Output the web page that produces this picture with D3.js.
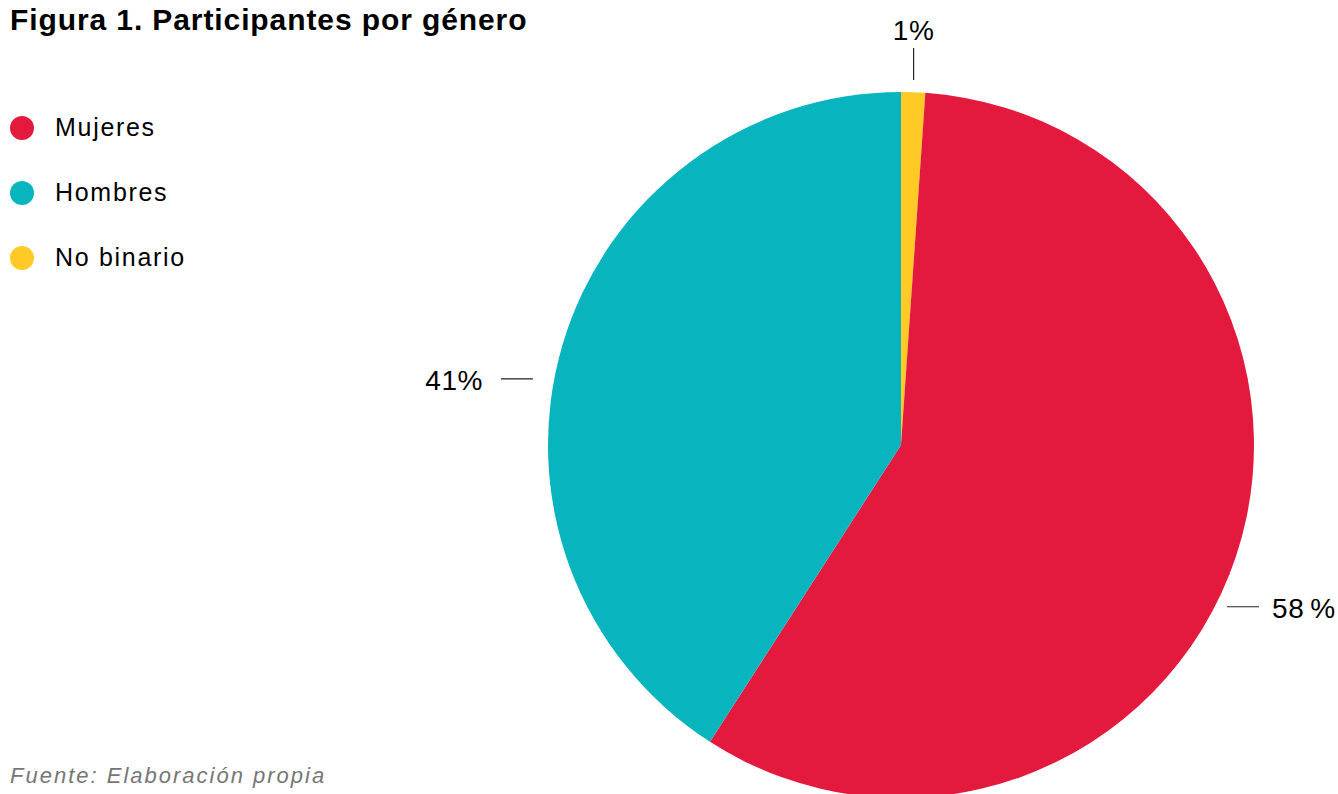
<!DOCTYPE html>
<head>
<meta charset="utf-8">
<script src="https://d3js.org/d3.v7.min.js"></script>
<style>
body {
	margin: 0;
	background: #fff;
	font-family: "Liberation Sans", Arial, sans-serif;
}
.title {
	font-weight: bold;
	font-size: 30px;
	letter-spacing: 0.9px;
}
.legend text {
	font-size: 25px;
	letter-spacing: 1.7px;
}
.pct {
	font-size: 28px;
	letter-spacing: 0.5px;
}
.source {
	font-size: 22px;
	font-style: italic;
	letter-spacing: 2px;
	fill: #767676;
}
</style>
</head>
<body>
<svg id="chart" width="1338" height="794"></svg>

<script>

// slices in drawing order, clockwise from 12 o'clock
var categories = ["No binario", "Mujeres", "Hombres"];
var values = [1.1, 58, 40.9];
var pctLabels = ["1%", "58\u2009%", "41%"];
var legendOrder = ["Mujeres", "Hombres", "No binario"];

var color = d3.scaleOrdinal()
	.domain(categories)
	.range(["#ffc926", "#e3193e", "#08b4bd"]);

var svg = d3.select("#chart"),
	cx = 901,
	cy = 445,
	radius = 353;

svg.append("text")
	.attr("class", "title")
	.attr("x", 10)
	.attr("y", 30)
	.text("Figura 1. Participantes por género");

var data = categories.map((c, i) => ({name: c, value: values[i], label: pctLabels[i]}));

var pie = d3.pie()
	.sort(null)
	.value(d => d.value);

var arc = d3.arc()
	.innerRadius(0)
	.outerRadius(radius);

var g = svg.append("g")
	.attr("transform", "translate(" + cx + "," + cy + ")");

var arcs = pie(data);

g.selectAll("path")
	.data(arcs)
	.enter().append("path")
	.attr("d", arc)
	.attr("fill", d => color(d.data.name));

// leader lines: top one vertical, side ones horizontal
var tweak = {"No binario": 0, "Mujeres": 0.14, "Hombres": -0.108};

arcs.forEach(function(d) {
	var a = (d.startAngle + d.endAngle) / 2 + tweak[d.data.name],
		s = Math.sin(a) > 0 ? 1 : -1,
		r = radius + (s > 0 ? 11 : 21),
		px = Math.sin(a) * r,
		py = -Math.cos(a) * r;

	if (Math.abs(px) < 50) {
		g.append("line")
			.attr("x1", px).attr("x2", px)
			.attr("y1", -radius - 12).attr("y2", -radius - 44)
			.attr("stroke", "#222").attr("stroke-width", 1.2);
		g.append("text")
			.attr("class", "pct")
			.attr("x", px).attr("y", -radius - 52)
			.attr("text-anchor", "middle")
			.text(d.data.label);
	} else {
		g.append("line")
			.attr("x1", px).attr("x2", px + s * 32)
			.attr("y1", py).attr("y2", py)
			.attr("stroke", "#222").attr("stroke-width", 1.2);
		g.append("text")
			.attr("class", "pct")
			.attr("x", px + s * (s > 0 ? 45 : 50)).attr("y", py + 11)
			.attr("text-anchor", s > 0 ? "start" : "end")
			.text(d.data.label);
	}
});

var legend = svg.append("g")
	.attr("class", "legend")
	.selectAll("g")
	.data(legendOrder)
	.enter().append("g")
	.attr("transform", (d, i) => "translate(22," + (128 + i * 65) + ")");

legend.append("circle")
	.attr("r", 12)
	.attr("fill", d => color(d));

legend.append("text")
	.attr("x", 33)
	.attr("y", 8)
	.text(d => d);

svg.append("text")
	.attr("class", "source")
	.attr("x", 10)
	.attr("y", 783)
	.text("Fuente: Elaboración propia");

</script>
</body>
